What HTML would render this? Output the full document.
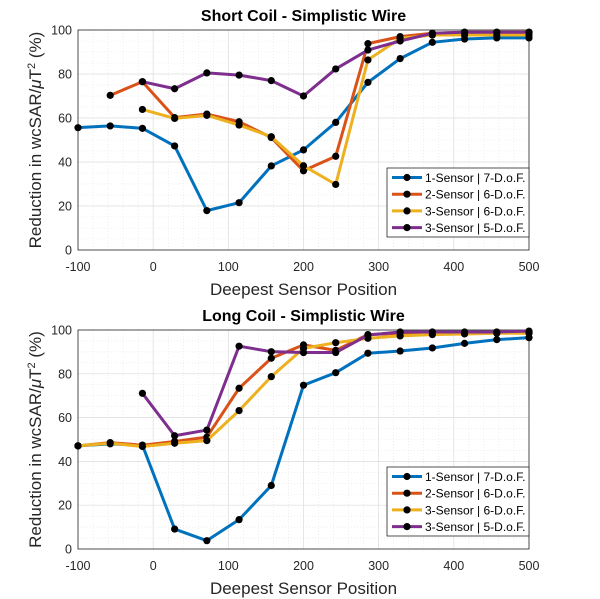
<!DOCTYPE html>
<html><head><meta charset="utf-8"><style>
html,body{margin:0;padding:0;background:#fff}
svg{display:block;font-family:"Liberation Sans",Arial,sans-serif}
</style></head><body>
<svg id="chart" width="600" height="599" xmlns="http://www.w3.org/2000/svg"></svg>
<script>
const xCats = [-100,-57.14,-14.29,28.57,71.43,114.29,157.14,200,242.86,285.71,328.57,371.43,414.29,457.14,500];
const seriesNames = ["1-Sensor | 7-D.o.F.","2-Sensor | 6-D.o.F.","3-Sensor | 6-D.o.F.","3-Sensor | 5-D.o.F."];
const xTicks = [-100,0,100,200,300,400,500];
const yTicks = [0,20,40,60,80,100];
const shortBlue = [55.6,56.4,55.3,47.3,17.9,21.5,38.2,45.5,58,76.2,87,94.4,95.9,96.4,96.4];
const shortOrange = [null,70.3,76.5,60.2,61.8,58.3,51.1,36,42.6,93.8,97,98.5,99,99,99];
const shortYellow = [null,null,63.9,59.8,61.2,56.8,51.5,38.3,29.8,86.4,96.2,97.7,97.7,97.7,97.7];
const shortPurple = [null,null,76.5,73.3,80.5,79.5,77,70,82.3,90.9,95,98.5,99,99,99];
const longBlue = [47.1,48,47.4,9.1,3.8,13.4,29,74.8,80.5,89.4,90.4,91.8,93.9,95.6,96.5];
const longOrange = [47.1,48.6,47.4,49.1,51.1,73.4,87.1,93.2,90.7,97.9,98.5,98.8,98.8,98.8,98.8];
const longYellow = [47.1,48.3,46.8,48.3,49.5,63.2,78.7,91.6,94.2,96.2,97.3,97.9,98.2,98.5,98.5];
const longPurple = [null,null,71.1,51.7,54.3,92.6,90.1,89.7,89.7,97.7,99.1,99.1,99.1,99.1,99.5];

const colors=["#0072BD","#D95319","#EDB120","#7E2F8E"];
const NS="http://www.w3.org/2000/svg";
const svg=document.getElementById('chart');
function mk(tag,attrs,parent){const e=document.createElementNS(NS,tag);for(const k in attrs)e.setAttribute(k,attrs[k]);(parent||svg).appendChild(e);return e;}

function panel(top,bottom,title,data,legTop,key){
  const L=78,R=529;
  const g=mk('g',{});
  
  
  const sx=v=>L+(v+100)/600*(R-L);
  const sy=v=>bottom-v/100*(bottom-top);
  for(let v=-100;v<=500;v+=20){if(v%100!==0)mk('line',{x1:sx(v),x2:sx(v),y1:top,y2:bottom,stroke:'#e3e3e3','stroke-width':0.6,'stroke-dasharray':'1,2'},g);}
  for(let v=0;v<=100;v+=5){if(v%20!==0)mk('line',{x1:L,x2:R,y1:sy(v),y2:sy(v),stroke:'#e3e3e3','stroke-width':0.6,'stroke-dasharray':'1,2'},g);}
  xTicks.forEach(v=>{mk('line',{x1:sx(v),x2:sx(v),y1:top,y2:bottom,stroke:'#dcdcdc','stroke-width':0.7},g);
    const t=mk('text',{x:sx(v),y:bottom+21,'text-anchor':'middle','font-size':12.5,fill:'#262626'},g);t.textContent=v;
    
    });
  yTicks.forEach(v=>{mk('line',{x1:L,x2:R,y1:sy(v),y2:sy(v),stroke:'#dcdcdc','stroke-width':0.7},g);
    const t=mk('text',{x:L-6,y:sy(v)+4.5,'text-anchor':'end','font-size':12.5,fill:'#262626'},g);t.textContent=v;
    
    });
  mk('rect',{x:L,y:top,width:R-L,height:bottom-top,fill:'none',stroke:'#262626','stroke-width':0.8},g);
  data.forEach((arr,si)=>{
    const pts=[];arr.forEach((v,i)=>{if(v!==null)pts.push([sx(xCats[i]),sy(v)]);});
    const pl=mk('polyline',{points:pts.map(p=>p.join(',')).join(' '),fill:'none',stroke:colors[si],'stroke-width':3,'stroke-linejoin':'round'},g);
    
    
    pts.forEach(p=>{const c=mk('circle',{cx:p[0],cy:p[1],r:3.6,fill:'#000'},g);
      
      });
  });
  const tt=mk('text',{x:(L+R)/2,y:top-9,'text-anchor':'middle','font-size':16,'font-weight':'bold',fill:'#000'},g);tt.textContent=title;
  
  
  const xl=mk('text',{x:(L+R)/2,y:bottom+45,'text-anchor':'middle','font-size':17,fill:'#262626'},g);xl.textContent='Deepest Sensor Position';
  
  
  const cy=(top+bottom)/2;
  const yl=mk('text',{x:0,y:0,'text-anchor':'middle','font-size':17,fill:'#262626',transform:`translate(41,${cy}) rotate(-90)`},g);
  yl.innerHTML='Reduction in wcSAR/<tspan font-style="italic">μ</tspan>T<tspan dy="-6" font-size="11">2</tspan><tspan dy="6"> (%)</tspan>';
  
  
  const lg=mk('g',{},g);
  
  
  mk('rect',{x:387,y:legTop,width:142,height:69,fill:'#fff',stroke:'#262626','stroke-width':0.8},lg);
  seriesNames.forEach((n,i)=>{const y=legTop+9.5+i*16.7;
    const e=mk('g',{},lg);
    
    
    mk('line',{x1:392,x2:422,y1:y,y2:y,stroke:colors[i],'stroke-width':3},e);
    mk('circle',{cx:407,cy:y,r:3.6,fill:'#000'},e);
    const t=mk('text',{x:425,y:y+4.5,'font-size':12,fill:'#000'},e);t.textContent=n;});
}
panel(30,250,'Short Coil - Simplistic Wire',[shortBlue,shortOrange,shortYellow,shortPurple],168,'short-coil');
panel(330,549,'Long Coil - Simplistic Wire',[longBlue,longOrange,longYellow,longPurple],467,'long-coil');
</script>
</body></html>
